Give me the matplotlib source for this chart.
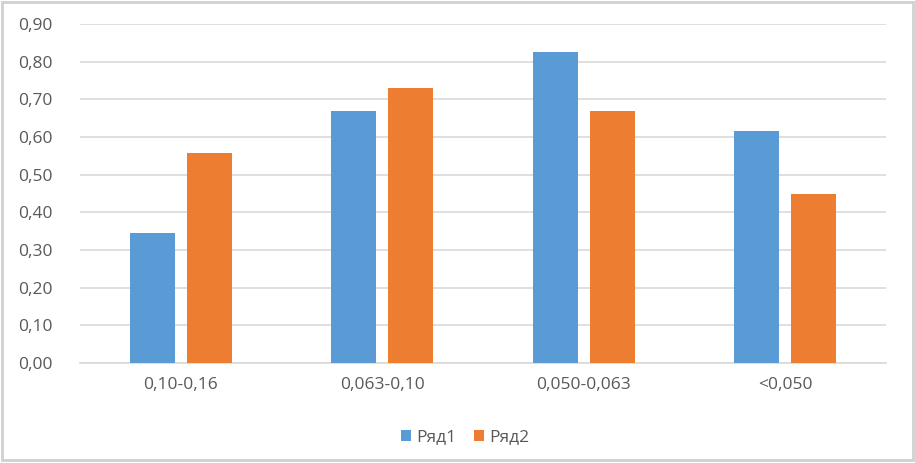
import numpy as np
import matplotlib
matplotlib.use("Agg")
import matplotlib.pyplot as plt
from matplotlib.ticker import FuncFormatter

# data
categories = ["0,10-0,16", "0,063-0,10", "0,050-0,063", "<0,050"]
ryad1 = [0.345, 0.668, 0.825, 0.615]
ryad2 = [0.557, 0.729, 0.668, 0.448]

plt.rcParams['font.family'] = ['Open Sans', 'DejaVu Sans']

fig = plt.figure(figsize=(9.15, 4.63), dpi=100)
ax = fig.add_axes([0.0874, 0.216, 0.8806, 0.732])

x = np.arange(len(categories))
w = 0.223
gap = 0.06
ax.bar(x - (w + gap) / 2, ryad1, w, color="#5B9BD5", label="Ряд1", zorder=3)
ax.bar(x + (w + gap) / 2, ryad2, w, color="#ED7D31", label="Ряд2", zorder=3)

ax.set_xlim(-0.5, len(categories) - 0.5)
ax.set_ylim(0, 0.9)
ax.set_yticks(np.arange(0, 0.91, 0.1))
ax.yaxis.set_major_formatter(FuncFormatter(lambda v, p: f"{v:.2f}".replace(".", ",")))
ax.set_xticks(x)
ax.set_xticklabels(categories)
ax.grid(axis="y", color="#D9D9D9", linewidth=1.2, zorder=0)
for s in ["top", "right", "left"]:
    ax.spines[s].set_visible(False)
ax.spines["bottom"].set_color("#D9D9D9")
ax.spines["bottom"].set_linewidth(1.2)
ax.tick_params(axis="both", length=0, colors="#595959", labelsize=12.5)
ax.tick_params(axis="y", pad=20)
ax.tick_params(axis="x", pad=10)

leg = ax.legend(loc="upper center", bbox_to_anchor=(0.478, -0.15), ncol=2, frameon=False,
                fontsize=12.5, handlelength=0.6, handleheight=0.6, handletextpad=0.3,
                columnspacing=1.0)
for t in leg.get_texts():
    t.set_color("#595959")

# light outer frame like the original picture
fig.patches.append(plt.Rectangle((0.002, 0.006), 0.996, 0.99, transform=fig.transFigure,
                                 fill=False, edgecolor="#D0D0D0", linewidth=2))

fig.savefig("out.png", dpi=100)
